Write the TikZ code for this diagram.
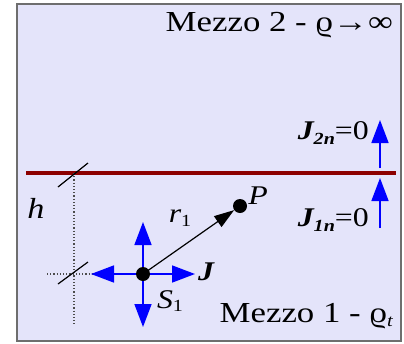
\documentclass[tikz,border=0pt]{standalone}
\usepackage{fontspec}
\setmainfont{Liberation Serif}
\usetikzlibrary{arrows.meta}
\definecolor{bgfill}{RGB}{228,228,250}
\definecolor{framec}{RGB}{110,110,110}
\definecolor{ifacec}{RGB}{140,0,0}
\newcommand{\bigsz}{\fontsize{29}{33}\selectfont}
\newcommand{\lblsz}{\fontsize{27}{31}\selectfont}
\newcommand{\subsz}{\fontsize{17}{19}\selectfont}
\newcommand{\wtxt}[1]{\scalebox{1.18}[1]{#1}}
\newcommand{\wttl}[1]{\scalebox{1.2}[1]{#1}}
\begin{document}
\begin{tikzpicture}[x=1pt,y=-1pt,
  lbl/.style={inner sep=0pt,font=\lblsz},
  ttl/.style={inner sep=0pt,font=\bigsz},
  bluearr/.style={draw=blue,line width=1.6pt,-{Triangle[length=23pt,width=17pt]}},
  dotnode/.style={circle,fill=black,minimum size=14pt,inner sep=0pt},
  dotline/.style={dotted,line width=1.2pt,black!70},
  tick/.style={line width=1.2pt,black}]
\useasboundingbox (0,0) rectangle (404,343);
\draw[framec,fill=bgfill,line width=2pt] (17,4) rectangle (401,341);
% interface
\coordinate (ifl) at (26,173);
\coordinate (ifr) at (396,173);
\draw[ifacec,line width=4.5pt] (ifl) -- (ifr);
% texts
\node[ttl,anchor=base east] (m2) at (393,31) {\wttl{Mezzo 2 - ϱ→∞}};
\node[ttl,anchor=base east] (m1) at (393,322) {\wttl{Mezzo 1 - ϱ\raisebox{-0.35ex}{\subsz\itshape t}}};
\node[lbl,anchor=east] (j2n) at (369,133) {\wtxt{{\bfseries\itshape J\raisebox{-0.35ex}{\subsz 2n}}=0}};
\node[lbl,anchor=east] (j1n) at (369,220) {\wtxt{{\bfseries\itshape J\raisebox{-0.35ex}{\subsz 1n}}=0}};
\node[ttl] (hl) at (36,208) {\wtxt{\itshape h}};
% normal arrows
\coordinate (a2s) at (380,168);
\coordinate (a2e) at (380,120);
\coordinate (a1s) at (380,228);
\coordinate (a1e) at (380,178);
\draw[bluearr] (a2s) -- (a2e);
\draw[bluearr] (a1s) -- (a1e);
% construction lines
\coordinate (vt) at (74,173);
\coordinate (vb) at (74,324);
\coordinate (hlft) at (47,274);
\coordinate (hrt) at (92,274);
\draw[dotline] (vt) -- (vb);
\draw[dotline] (hlft) -- (hrt);
\coordinate (t1a) at (58,187);
\coordinate (t1b) at (88,163);
\coordinate (t2a) at (58,284);
\coordinate (t2b) at (88,262);
\draw[tick] (t1a) -- (t1b);
\draw[tick] (t2a) -- (t2b);
% source
\coordinate (up) at (143,222);
\coordinate (dn) at (143,327);
\coordinate (lf) at (91,274);
\coordinate (rt) at (195,274);
\draw[bluearr] (143,274) -- (up);
\draw[bluearr] (143,274) -- (dn);
\draw[bluearr] (143,274) -- (lf);
\draw[bluearr] (143,274) -- (rt);
\node[dotnode] (S) at (143,274) {};
\node[dotnode] (P) at (240,206) {};
\draw[line width=1.2pt,-{Triangle[length=20pt,width=13pt]}] (S.center) -- (P);
\node[lbl] (Pl) at (258,196) {\wtxt{\itshape P}};
\node[lbl] (rl) at (180,218) {\wtxt{\itshape r\raisebox{-0.3ex}{\subsz\upshape 1}}};
\node[lbl] (Jl) at (206,272) {\wtxt{\bfseries\itshape J}};
\node[lbl] (Sl) at (170,301) {\wtxt{\itshape S\raisebox{-0.3ex}{\subsz\upshape 1}}};
\end{tikzpicture}
\end{document}
